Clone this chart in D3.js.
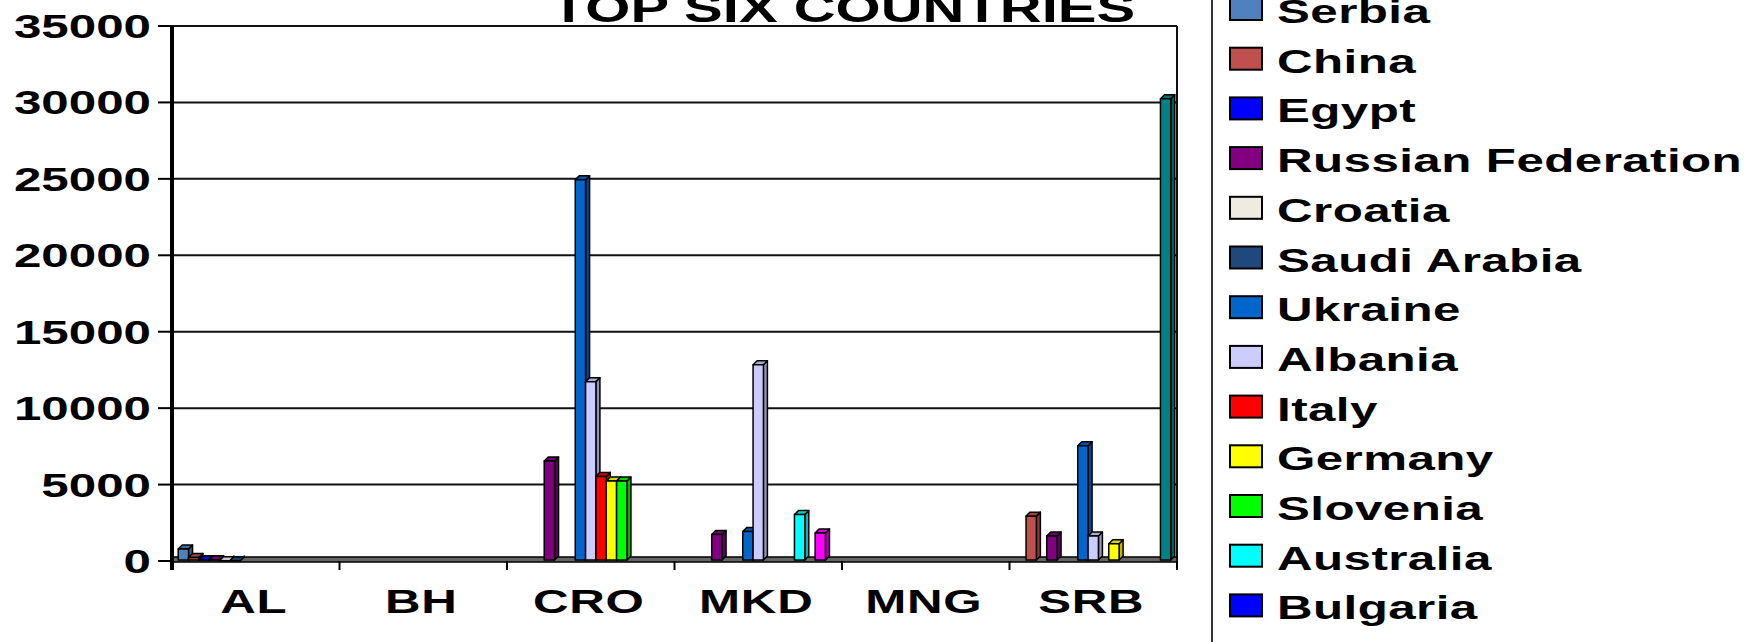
<!DOCTYPE html>
<html lang="en">
<head>
<meta charset="UTF-8">
<title>Top six countries</title>
<style>
  body { margin: 0; background: #fff; }
  svg { display: block; }
  text { font-family: "Liberation Sans", Arial, sans-serif; font-weight: bold; fill: #000; }
</style>
</head>
<body>
<script src="https://cdn.jsdelivr.net/npm/d3@7"></script>
<script>
// categories on the x axis
const categories = ["AL", "BH", "CRO", "MKD", "MNG", "SRB"];

// series (legend order); the last two are below the visible legend area
const seriesNames = ["Serbia", "China", "Egypt", "Russian Federation", "Croatia", "Saudi Arabia",
  "Ukraine", "Albania", "Italy", "Germany", "Slovenia", "Australia", "Bulgaria", "Series 14", "Series 15"];
const seriesColors = ["#4F81BD", "#C0504D", "#0000FF", "#800080", "#EEECE1", "#1F497D",
  "#0066CC", "#CCCCFF", "#FF0000", "#FFFF00", "#00FF00", "#00FFFF", "#0000FF", "#FF00FF", "#008080"];

// values per series, one per category (AL, BH, CRO, MKD, MNG, SRB)
const serbia    = [850, 0, 0, 0, 0, 0];
const china     = [300, 0, 0, 0, 0, 3000];
const egypt     = [150, 0, 0, 0, 0, 0];
const russia    = [150, 0, 6600, 1800, 0, 1700];
const croatia   = [80, 0, 0, 0, 0, 0];
const saudi     = [80, 0, 0, 0, 0, 0];
const ukraine   = [0, 0, 25000, 2000, 0, 7600];
const albania   = [0, 0, 11800, 12900, 0, 1700];
const italy     = [0, 0, 5600, 0, 0, 0];
const germany   = [0, 0, 5300, 0, 0, 1200];
const slovenia  = [0, 0, 5300, 0, 0, 0];
const australia = [0, 0, 0, 3100, 0, 0];
const bulgaria  = [0, 0, 0, 0, 0, 0];
const series14  = [0, 0, 0, 1900, 0, 0];
const series15  = [0, 0, 0, 0, 0, 30300];
const seriesValues = [serbia, china, egypt, russia, croatia, saudi, ukraine, albania,
  italy, germany, slovenia, australia, bulgaria, series14, series15];

const yTicks = [0, 5000, 10000, 15000, 20000, 25000, 30000, 35000];

const W = 1745, H = 642;
const plotL = 172, plotR = 1177, plotT = 26, plotB = 561;
const stretch = 1.45;  // the original picture is widened, text included
const depth = 4;

const svg = d3.select("body").append("svg").attr("width", W).attr("height", H);

const x = d3.scaleBand().domain(categories).range([plotL, plotR]).padding(0);
const xs = d3.scaleBand().domain(d3.range(seriesNames.length)).range([0, x.bandwidth()])
  .paddingInner(0).paddingOuter(0.6);
const y = d3.scaleLinear().domain([0, 35000]).range([plotB, plotT]);

function wideText(g, tx, ty, str, size, anchor, spacing) {
  return g.append("text")
    .attr("transform", `translate(${tx},${ty}) scale(${stretch},1)`)
    .attr("text-anchor", anchor || "start")
    .style("font-size", size + "px")
    .style("letter-spacing", (spacing || 0) + "px")
    .text(str);
}

// gridlines
svg.append("g").selectAll("line")
  .data(yTicks.filter(d => d > 0))
  .join("line")
  .attr("x1", plotL).attr("x2", plotR)
  .attr("y1", d => y(d)).attr("y2", d => y(d))
  .attr("stroke", "#111").attr("stroke-width", 2);

// right wall edge
svg.append("line")
  .attr("x1", plotR).attr("x2", plotR).attr("y1", y(35000)).attr("y2", plotB + 9)
  .attr("stroke", "#111").attr("stroke-width", 2);

// floor
svg.append("rect")
  .attr("x", plotL).attr("y", plotB - 4).attr("width", plotR - plotL).attr("height", 5)
  .attr("fill", "#666").attr("stroke", "#000").attr("stroke-width", 1.5);

// bars with a small 3D side and top face
const bars = [];
seriesValues.forEach((vals, s) => {
  vals.forEach((v, c) => {
    if (v > 0) bars.push({ s, c, v });
  });
});

const barG = svg.append("g");
bars.forEach(b => {
  const x0 = x(categories[b.c]) + xs(b.s);
  const w = xs.bandwidth();
  const yt = y(b.v) + 1;
  const yb = plotB - 1;
  const col = d3.color(seriesColors[b.s]);
  const g = barG.append("g").attr("stroke", "#000").attr("stroke-width", 1.5).attr("stroke-linejoin", "round");
  g.append("path")
    .attr("d", `M${x0 + w},${yt} L${x0 + w + depth},${yt - depth} L${x0 + w + depth},${yb - depth} L${x0 + w},${yb} Z`)
    .attr("fill", col.darker(0.9));
  g.append("path")
    .attr("d", `M${x0},${yt} L${x0 + depth},${yt - depth} L${x0 + w + depth},${yt - depth} L${x0 + w},${yt} Z`)
    .attr("fill", col.darker(0.5));
  g.append("rect")
    .attr("x", x0).attr("y", yt).attr("width", w).attr("height", yb - yt)
    .attr("fill", col);
});

// y axis
svg.append("line")
  .attr("x1", plotL).attr("x2", plotL).attr("y1", plotT).attr("y2", plotB + 9)
  .attr("stroke", "#000").attr("stroke-width", 4);
svg.append("g").selectAll("line")
  .data(yTicks)
  .join("line")
  .attr("x1", plotL - 14).attr("x2", plotL)
  .attr("y1", d => y(d)).attr("y2", d => y(d))
  .attr("stroke", "#000").attr("stroke-width", 2);
const yLab = svg.append("g");
yTicks.forEach(t => wideText(yLab, 151, y(t) + 12, String(t), 34, "end"));

// category ticks and labels
svg.append("g").selectAll("line")
  .data(d3.range(categories.length + 1))
  .join("line")
  .attr("x1", i => plotL + i * x.step()).attr("x2", i => plotL + i * x.step())
  .attr("y1", plotB).attr("y2", plotB + 9)
  .attr("stroke", "#000").attr("stroke-width", 2);
const xLab = svg.append("g");
categories.forEach(c => wideText(xLab, x(c) + x.bandwidth() / 2 - 2, 613, c, 34, "middle", 0.5));

// title
wideText(svg, 843, 22, "TOP SIX COUNTRIES", 40, "middle");

// legend (entries below the bottom edge are not visible in the original)
svg.append("line")
  .attr("x1", 1212).attr("x2", 1212).attr("y1", 0).attr("y2", H)
  .attr("stroke", "#333").attr("stroke-width", 2);
const leg = svg.append("g");
seriesNames.forEach((n, i) => {
  const base = 23 + i * 49.7;
  if (base - 24 > H) return;
  leg.append("rect")
    .attr("x", 1230).attr("y", base - 25).attr("width", 32).attr("height", 22)
    .attr("fill", seriesColors[i]).attr("stroke", "#000").attr("stroke-width", 2);
  wideText(leg, 1277, base, n, 34, "start", 0.3);
});
</script>
</body>
</html>
